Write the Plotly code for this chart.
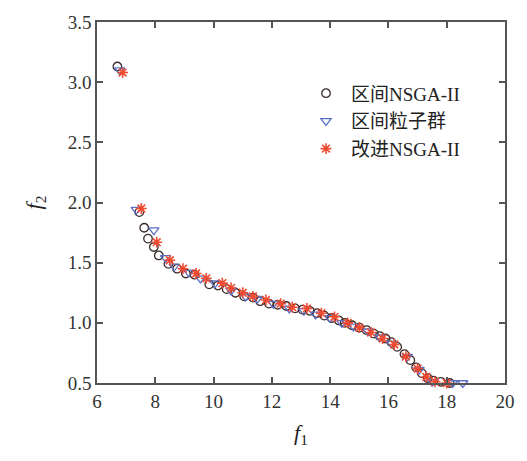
import plotly.graph_objects as go

# 区间NSGA-II (circles)
nsga_x = [6.70, 7.45, 7.62, 7.75, 7.95, 8.12, 8.45, 8.75, 9.05, 9.35, 9.85, 10.15, 10.45, 10.75,
          11.05, 11.35, 11.6, 11.9, 12.2, 12.5, 12.8, 13.05, 13.3, 13.55, 13.8, 14.05, 14.3, 14.5,
          14.75, 15.0, 15.25, 15.5, 15.7, 15.9, 16.1, 16.3, 16.55, 16.75, 16.95, 17.15, 17.35,
          17.55, 17.8, 18.1]
nsga_y = [3.13, 1.92, 1.79, 1.70, 1.63, 1.56, 1.49, 1.45, 1.41, 1.40, 1.32, 1.31, 1.28, 1.25,
          1.22, 1.21, 1.18, 1.16, 1.15, 1.14, 1.12, 1.11, 1.10, 1.08, 1.06, 1.04, 1.02, 1.00,
          0.98, 0.96, 0.94, 0.91, 0.89, 0.87, 0.84, 0.80, 0.74, 0.69, 0.63, 0.58, 0.54,
          0.52, 0.51, 0.50]

# 区间粒子群 (triangles)
pso_x = [6.78, 7.35, 7.95, 8.35, 8.65, 9.15, 9.55, 10.05, 10.6, 11.1, 11.5, 12.05, 12.6, 13.1,
         13.5, 14.0, 14.4, 14.8, 15.3, 15.7, 16.1, 16.65, 17.05, 17.5, 18.2, 18.55]
pso_y = [3.10, 1.94, 1.77, 1.54, 1.47, 1.42, 1.37, 1.33, 1.27, 1.22, 1.20, 1.16, 1.12, 1.10,
         1.07, 1.04, 1.00, 0.97, 0.93, 0.88, 0.83, 0.72, 0.61, 0.51, 0.50, 0.50]

# 改进NSGA-II (asterisks)
imp_x = [6.88, 7.52, 8.05, 8.5, 8.95, 9.4, 9.75, 10.3, 10.6, 11.0, 11.35, 11.8, 12.3, 12.7,
         13.2, 13.7, 14.15, 14.6, 15.0, 15.4, 15.8, 16.2, 16.6, 17.0, 17.3, 17.6, 18.0]
imp_y = [3.08, 1.95, 1.67, 1.52, 1.45, 1.41, 1.37, 1.33, 1.29, 1.25, 1.22, 1.19, 1.16, 1.13,
         1.12, 1.08, 1.05, 1.00, 0.96, 0.92, 0.87, 0.82, 0.72, 0.62, 0.55, 0.51, 0.50]

series_names = ["区间NSGA-II", "区间粒子群", "改进NSGA-II"]

FONT = "Liberation Serif, Noto Sans CJK SC, serif"

fig = go.Figure()
fig.add_trace(go.Scatter(x=nsga_x, y=nsga_y, mode="markers", name=series_names[0],
                         cliponaxis=False,
                         marker=dict(symbol="circle-open", size=8.5, color="#3a2a2a",
                                     line=dict(width=1.3, color="#3a2a2a"))))
fig.add_trace(go.Scatter(x=pso_x, y=pso_y, mode="markers", name=series_names[1],
                         cliponaxis=False,
                         marker=dict(symbol="triangle-down-open", size=9, color="#5b6fc4",
                                     line=dict(width=1.3, color="#5b6fc4"))))
fig.add_trace(go.Scatter(x=imp_x, y=imp_y, mode="markers", name=series_names[2],
                         cliponaxis=False,
                         marker=dict(symbol="asterisk-open", size=9, color="#f04a30",
                                     line=dict(width=1.6, color="#f04a30"))))

axis_common = dict(showline=True, linecolor="#555555", linewidth=1.5, mirror="ticks",
                   ticks="inside", ticklen=6, tickwidth=1.5, tickcolor="#555555",
                   showgrid=False, zeroline=False,
                   tickfont=dict(family=FONT, size=19, color="#333333"))

fig.update_xaxes(range=[6, 20], dtick=2, tick0=6,
                 title=dict(text="<i>f</i><sub>1</sub>", font=dict(family=FONT, size=22, color="#222222"),
                            standoff=14),
                 **axis_common)
fig.update_yaxes(range=[0.5, 3.5], dtick=0.5, tick0=0.5, tickformat=".1f",
                 title=dict(text="<i>f</i><sub>2</sub>", font=dict(family=FONT, size=22, color="#222222"),
                            standoff=20),
                 **axis_common)

fig.update_layout(
    width=527, height=461,
    margin=dict(l=97, r=14, t=16, b=78),
    plot_bgcolor="white", paper_bgcolor="white",
    legend=dict(x=0.5, y=0.855, xanchor="left", yanchor="top",
                font=dict(family=FONT, size=19, color="#222222"),
                bgcolor="rgba(0,0,0,0)", tracegroupgap=0, itemwidth=40),
)

fig.write_html("out.html")
